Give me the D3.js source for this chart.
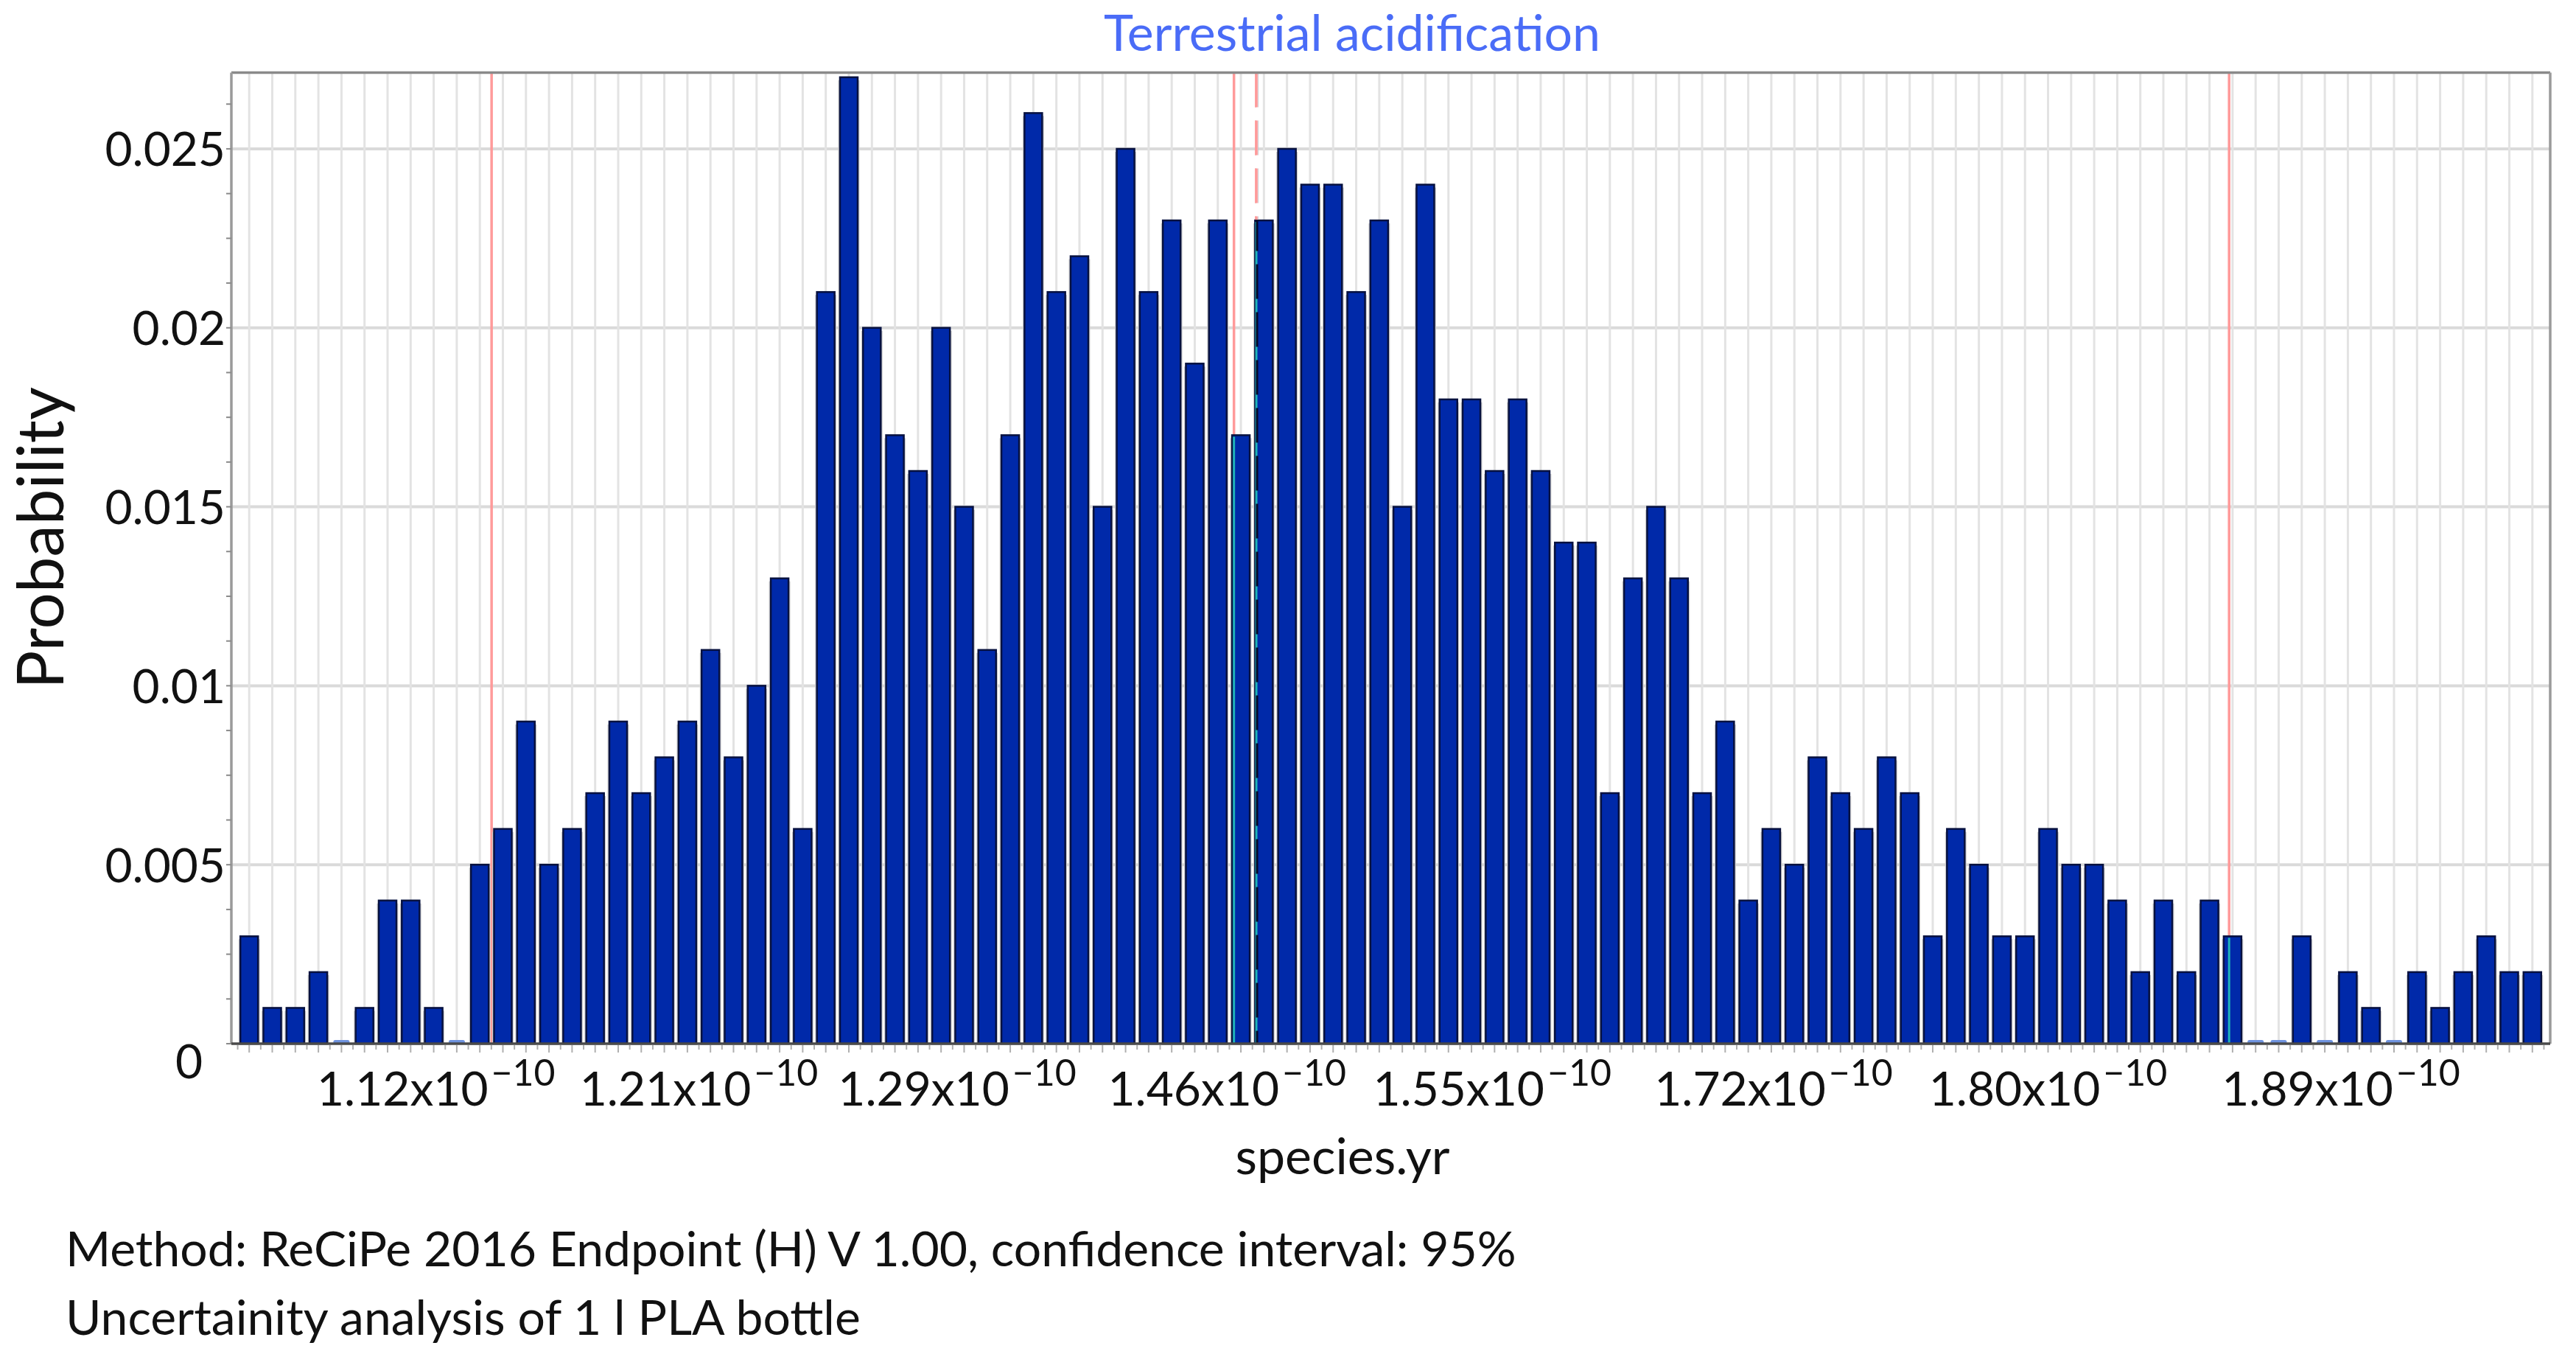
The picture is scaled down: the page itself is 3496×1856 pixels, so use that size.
<!DOCTYPE html>
<html><head><meta charset="utf-8">
<script src="https://cdn.jsdelivr.net/npm/d3@7"></script>
<style>
html,body{margin:0;padding:0;background:#fff;}
svg{display:block;}
text{font-family:Lato,'Open Sans',sans-serif;}
</style></head><body>
<svg id="chart" width="3496" height="1856"></svg>
<script>
// ---------- DATA ----------
const binNumbers = d3.range(1, 101); // histogram bins (categories)
const binProbabilities = [
  0.003,0.001,0.001,0.002,0,0.001,0.004,0.004,0.001,0,
  0.005,0.006,0.009,0.005,0.006,0.007,0.009,0.007,0.008,0.009,
  0.011,0.008,0.010,0.013,0.006,0.021,0.027,0.020,0.017,0.016,
  0.020,0.015,0.011,0.017,0.026,0.021,0.022,0.015,0.025,0.021,
  0.023,0.019,0.023,0.017,0.023,0.025,0.024,0.024,0.021,0.023,
  0.015,0.024,0.018,0.018,0.016,0.018,0.016,0.014,0.014,0.007,
  0.013,0.015,0.013,0.007,0.009,0.004,0.006,0.005,0.008,0.007,
  0.006,0.008,0.007,0.003,0.006,0.005,0.003,0.003,0.006,0.005,
  0.005,0.004,0.002,0.004,0.002,0.004,0.003,0,0,0.003,
  0,0.002,0.001,0,0.002,0.001,0.002,0.003,0.002,0.002
];
const yAxisMax = 0.02713;
const yTickValues = [0, 0.005, 0.01, 0.015, 0.02, 0.025];
const yTickLabels = ["0", "0.005", "0.01", "0.015", "0.02", "0.025"];
const xTickMantissas = ["1.12", "1.21", "1.29", "1.46", "1.55", "1.72", "1.80", "1.89"];
const xTickExponent = "\u221210";
const xTickBinPositions = [8.6, 20.0, 31.2, 42.9, 54.4, 66.6, 78.5, 91.2];
const markerNames = ["2.5%", "median", "mean", "97.5%"];
const markerBinPositions = [11.01, 43.2, 44.17, 86.35];
const markerDashed = [false, false, true, false];
const titleText = "Terrestrial acidification";
const xAxisTitle = "species.yr";
const yAxisTitle = "Probability";
const footerLines = ["Method: ReCiPe 2016 Endpoint (H) V 1.00, confidence interval: 95%",
                     "Uncertainity analysis of 1 l PLA bottle"];

// ---------- LAYOUT ----------
const plot = {left: 314, right: 3461, top: 98.5, bottom: 1416};
const svg = d3.select("#chart");
const n = binProbabilities.length;

const x = d3.scaleBand().domain(d3.range(n)).range([plot.left, plot.right])
  .paddingInner(0.233).paddingOuter(0.39);
const step = x.step(), bw = x.bandwidth();
const x0 = x(0) - x.paddingInner() * step / 2;
const xLin = d3.scaleLinear().domain([0, n]).range([x0, x0 + n * step]);
const y = d3.scaleLinear().domain([0, yAxisMax]).range([plot.bottom, plot.top]);

svg.append("rect").attr("width", 3496).attr("height", 1856).attr("fill", "#fff");

// horizontal grid
svg.append("g").selectAll("line").data(yTickValues.filter(d => d > 0)).join("line")
  .attr("x1", plot.left).attr("x2", plot.right)
  .attr("y1", d => y(d)).attr("y2", d => y(d))
  .attr("stroke", "#dadada").attr("stroke-width", 4);

// vertical grid at bin centres
svg.append("g").selectAll("line").data(d3.range(n)).join("line")
  .attr("x1", i => x(i) + bw / 2).attr("x2", i => x(i) + bw / 2)
  .attr("y1", plot.top).attr("y2", plot.bottom)
  .attr("stroke", "#e3e3e3").attr("stroke-width", 3);

// marker lines (behind bars)
svg.append("g").selectAll("line").data(d3.range(markerBinPositions.length)).join("line")
  .attr("x1", k => xLin(markerBinPositions[k])).attr("x2", k => xLin(markerBinPositions[k]))
  .attr("y1", plot.top).attr("y2", plot.bottom)
  .attr("stroke", "#ff9a9a").attr("stroke-width", 3.5)
  .attr("stroke-dasharray", k => markerDashed[k] ? "47 18" : null);

const barData = binProbabilities.map((v, i) => ({i, v, bin: binNumbers[i]}));

// halo / shadow around bars
svg.append("g").selectAll("rect").data(barData.filter(d => d.v > 0)).join("rect")
  .attr("x", d => x(d.i) - 2.5).attr("width", bw + 5)
  .attr("y", d => y(d.v) + 4).attr("height", d => y(0) - y(d.v) - 4)
  .attr("fill", "#cfcfcf");

// bars
svg.append("g").selectAll("rect").data(barData.filter(d => d.v > 0)).join("rect")
  .attr("x", d => x(d.i)).attr("width", bw)
  .attr("y", d => y(d.v)).attr("height", d => y(0) - y(d.v))
  .attr("fill", "#0029a9").attr("stroke", "#07113f").attr("stroke-width", 2.5);

// zero-probability stubs
svg.append("g").selectAll("rect").data(barData.filter(d => d.v === 0)).join("rect")
  .attr("x", d => x(d.i) + 1).attr("width", bw - 2)
  .attr("y", y(0) - 5).attr("height", 5).attr("rx", 2.5)
  .attr("fill", "#6f93de");

// overlays where a marker line crosses a bar
markerBinPositions.forEach((b, k) => {
  const i = Math.floor(b), px = xLin(b);
  if (i < 0 || i >= n) return;
  const v = binProbabilities[i];
  if (v > 0 && px >= x(i) && px <= x(i) + bw) {
    svg.append("line").attr("x1", px).attr("x2", px)
      .attr("y1", y(v) + 2).attr("y2", y(0))
      .attr("stroke", "#1fb3b8").attr("stroke-width", 3);
    if (markerDashed[k]) {
      svg.append("line").attr("x1", px + 1).attr("x2", px + 1)
        .attr("y1", plot.top).attr("y2", y(0))
        .attr("stroke", "#060a2a").attr("stroke-width", 3)
        .attr("stroke-dasharray", "47 18");
      svg.append("line").attr("x1", px + 1).attr("x2", px + 1)
        .attr("y1", plot.top).attr("y2", y(v) - 1)
        .attr("stroke", "#fff").attr("stroke-width", 3.2);
      svg.append("line").attr("x1", px).attr("x2", px)
        .attr("y1", plot.top).attr("y2", y(v) - 1)
        .attr("stroke", "#ff9a9a").attr("stroke-width", 3.5)
        .attr("stroke-dasharray", "47 18");
    }
  }
});

// frame
svg.append("line").attr("x1", plot.left).attr("x2", plot.right).attr("y1", plot.top).attr("y2", plot.top)
  .attr("stroke", "#8a8a8a").attr("stroke-width", 3.5);
svg.append("line").attr("x1", plot.left).attr("x2", plot.left).attr("y1", plot.top).attr("y2", plot.bottom)
  .attr("stroke", "#9a9a9a").attr("stroke-width", 3.5);
svg.append("line").attr("x1", plot.right).attr("x2", plot.right).attr("y1", plot.top).attr("y2", plot.bottom)
  .attr("stroke", "#9a9a9a").attr("stroke-width", 3.5);

// x axis line and ticks
svg.append("line").attr("x1", plot.left).attr("x2", plot.right).attr("y1", plot.bottom).attr("y2", plot.bottom)
  .attr("stroke", "#4a4a4a").attr("stroke-width", 3.5);
svg.append("g").selectAll("line").data(d3.range(0, n + 0.01, 0.5)).join("line")
  .attr("x1", d => xLin(d)).attr("x2", d => xLin(d))
  .attr("y1", plot.bottom + 2).attr("y2", d => plot.bottom + (d % 1 === 0 ? 8 : 12))
  .attr("stroke", "#b0b0b0").attr("stroke-width", 2);

// y axis labels
const yAxis = d3.axisLeft(y).tickValues(yTickValues)
  .tickFormat((d, i) => yTickLabels[i]).tickSize(0).tickPadding(8);
const yg = svg.append("g").attr("transform", `translate(${plot.left},0)`).call(yAxis);
yg.select(".domain").remove();
yg.selectAll("text").attr("font-size", 64).attr("fill", "#111")
  .style("font-family", "Lato, 'Open Sans', sans-serif")
  .attr("dx", d => d === 0 ? -31 : 0)
  .attr("dy", d => d === 0 ? 46 : 23);

// y minor ticks
svg.append("g").selectAll("line").data(d3.range(0, yAxisMax, 0.00125)).join("line")
  .attr("x1", plot.left - 7).attr("x2", plot.left)
  .attr("y1", d => y(d)).attr("y2", d => y(d))
  .attr("stroke", "#8a8a8a").attr("stroke-width", 2);

// x tick labels
const xl = svg.append("g").selectAll("text").data(xTickMantissas).join("text")
  .attr("x", (d, i) => xLin(xTickBinPositions[i])).attr("y", 1500)
  .attr("text-anchor", "middle").attr("font-size", 64).attr("fill", "#111");
xl.append("tspan").text(d => d + "x10");
xl.append("tspan").attr("dy", -27).attr("dx", 4).attr("font-size", 50).text(xTickExponent);

// titles
svg.append("text").attr("x", 1835).attr("y", 69).attr("text-anchor", "middle")
  .attr("font-size", 68).attr("fill", "#4a6cf7").text(titleText);
svg.append("text").attr("x", 1822).attr("y", 1593).attr("text-anchor", "middle")
  .attr("font-size", 68).attr("fill", "#111").text(xAxisTitle);
svg.append("text").attr("transform", "translate(86,730) rotate(-90)").attr("text-anchor", "middle")
  .attr("font-size", 87).attr("fill", "#111").text(yAxisTitle);

// footer
svg.append("g").selectAll("text").data(footerLines).join("text")
  .attr("x", 89).attr("y", (d, i) => 1718 + i * 93)
  .attr("font-size", 66).attr("fill", "#111").text(d => d);
</script>
</body></html>
